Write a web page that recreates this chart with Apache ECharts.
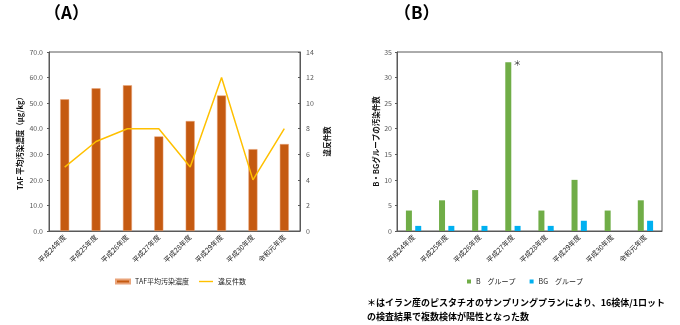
<!DOCTYPE html>
<html>
<head>
<meta charset="utf-8">
<script src="https://cdn.jsdelivr.net/npm/echarts@6/dist/echarts.min.js"></script>
<style>html,body{margin:0;padding:0;background:#fff;}#c{width:680px;height:325px;}</style>
</head>
<body>
<div id="c"></div>
<script>
var categories = ['平成24年度','平成25年度','平成26年度','平成27年度','平成28年度','平成29年度','平成30年度','令和元年度'];
var tafConc = [51.5, 55.8, 57.0, 37.0, 43.0, 53.0, 32.0, 34.0];
var violations = [5, 7, 8, 8, 5, 12, 4, 8];
var groupB = [4, 6, 8, 33, 4, 10, 4, 6];
var groupBG = [1, 1, 1, 1, 1, 2, 0, 2];

var FONT = '"Noto Sans CJK JP", "Noto Sans", sans-serif';
var chart = echarts.init(document.getElementById('c'), null, {renderer: 'canvas'});

var axisLab = {fontSize: 7, color: '#595959', fontFamily: FONT};
var xLab = {fontSize: 7, color: '#222', rotate: 45, interval: 0, fontFamily: FONT, margin: 5};
var nameStyle = {fontSize: 7.5, color: '#111', fontFamily: FONT, fontWeight: 'bold'};

var bData = groupB.map(function (v, i) {
  if (i === 3) {
    return {value: v, label: {show: true, formatter: '＊', position: [8, -3], fontSize: 8, color: '#333', fontFamily: FONT}};
  }
  return v;
});

chart.setOption({
  animation: false,
  textStyle: {fontFamily: FONT},
  grid: [
    {left: 49, right: 380, top: 52, bottom: 94, show: true, borderColor: '#595959', borderWidth: 1},
    {left: 397, right: 18, top: 52, bottom: 94, show: true, borderColor: '#595959', borderWidth: 1}
  ],
  legend: [
    {
      left: 110, top: 273, itemGap: 10, itemWidth: 14, itemHeight: 4,
      textStyle: {fontSize: 7, color: '#222', fontFamily: FONT},
      data: [
        {name: 'TAF平均汚染濃度', icon: 'rect'},
        {name: '違反件数', icon: 'path://M0,0 L10,0 L10,1 L0,1 Z'}
      ]
    },
    {
      left: 462, top: 273, itemGap: 14, itemWidth: 4, itemHeight: 4,
      textStyle: {fontSize: 7, color: '#222', fontFamily: FONT},
      data: [{name: 'B　グループ', icon: 'rect'}, {name: 'BG　グループ', icon: 'rect'}]
    }
  ],
  xAxis: [
    {gridIndex: 0, type: 'category', data: categories, axisLabel: xLab,
     axisLine: {lineStyle: {color: '#595959'}}, axisTick: {show: false}},
    {gridIndex: 1, type: 'category', data: categories, axisLabel: xLab,
     axisLine: {lineStyle: {color: '#595959'}}, axisTick: {show: false}}
  ],
  yAxis: [
    {gridIndex: 0, type: 'value', min: 0, max: 70, interval: 10,
     axisLabel: Object.assign({}, axisLab, {formatter: function (v) { return v.toFixed(1); }, margin: 6}),
     axisLine: {show: true, lineStyle: {color: '#595959'}},
     axisTick: {show: true, length: 2, lineStyle: {color: '#595959'}},
     splitLine: {show: false},
     name: 'TAF 平均汚染濃度（μg/kg）', nameLocation: 'middle', nameRotate: 90, nameGap: 25,
     nameTextStyle: nameStyle},
    {gridIndex: 0, type: 'value', position: 'right', min: 0, max: 14, interval: 2,
     axisLabel: Object.assign({}, axisLab, {margin: 6}),
     axisLine: {show: true, lineStyle: {color: '#595959'}},
     axisTick: {show: true, inside: true, length: 2, lineStyle: {color: '#595959'}},
     splitLine: {show: false},
     name: '違反件数', nameLocation: 'middle', nameRotate: 90, nameGap: 23,
     nameTextStyle: nameStyle},
    {gridIndex: 1, type: 'value', min: 0, max: 35, interval: 5,
     axisLabel: Object.assign({}, axisLab, {margin: 5}),
     axisLine: {show: true, lineStyle: {color: '#595959'}},
     axisTick: {show: true, length: 2, lineStyle: {color: '#595959'}},
     splitLine: {show: false},
     name: 'B・BGグループの汚染件数', nameLocation: 'middle', nameRotate: 90, nameGap: 14,
     nameTextStyle: nameStyle}
  ],
  series: [
    {name: 'TAF平均汚染濃度', type: 'bar', xAxisIndex: 0, yAxisIndex: 0, data: tafConc,
     barWidth: 9, itemStyle: {color: '#C55A11', borderColor: '#E9A47A', borderWidth: 0.5}},
    {name: '違反件数', type: 'line', xAxisIndex: 0, yAxisIndex: 1, data: violations,
     symbol: 'none', lineStyle: {color: '#FFC000', width: 1.5}, itemStyle: {color: '#FFC000'}},
    {name: 'B　グループ', type: 'bar', xAxisIndex: 1, yAxisIndex: 2, data: bData,
     barWidth: 6, barGap: '55%', itemStyle: {color: '#70AD47'}},
    {name: 'BG　グループ', type: 'bar', xAxisIndex: 1, yAxisIndex: 2, data: groupBG,
     barWidth: 6, itemStyle: {color: '#00B0F0'}}
  ],
  graphic: [
    {type: 'text', left: 44, top: 4, style: {text: '（A）', font: 'bold 17px ' + FONT, fill: '#000'}},
    {type: 'text', left: 394, top: 4, style: {text: '（B）', font: 'bold 17px ' + FONT, fill: '#000'}},
    {type: 'text', left: 367, top: 296, style: {text: '＊はイラン産のピスタチオのサンプリングプランにより、16検体/1ロット\nの検査結果で複数検体が陽性となった数', font: 'bold 9px ' + FONT, fill: '#000', lineHeight: 14}}
  ]
});
</script>
</body>
</html>
